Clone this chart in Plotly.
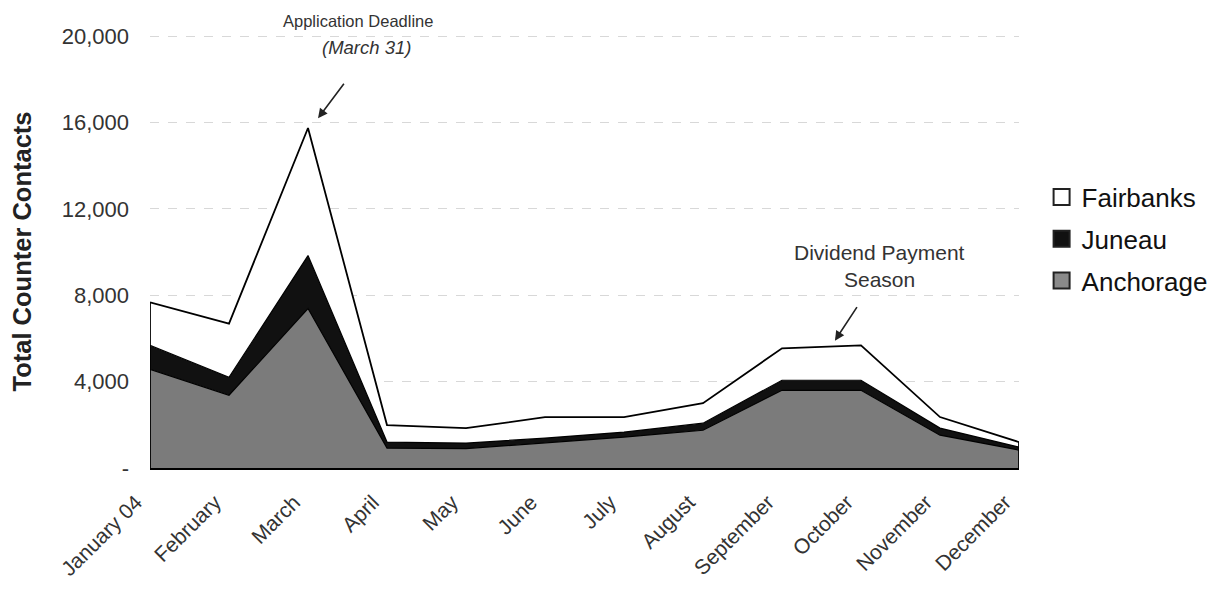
import plotly.graph_objects as go

months = ["January 04", "February", "March", "April", "May", "June", "July",
          "August", "September", "October", "November", "December"]
anchorage = [4570, 3370, 7390, 920, 900, 1150, 1430, 1750, 3600, 3600, 1520, 830]
juneau = [1110, 830, 2450, 280, 255, 235, 235, 325, 465, 465, 330, 140]
fairbanks = [1990, 2490, 5910, 790, 690, 970, 690, 925, 1480, 1620, 510, 230]

y_ticks = [0, 4000, 8000, 12000, 16000, 20000]
y_ticktext = ["-", "4,000", "8,000", "12,000", "16,000", "20,000"]

FONT = "Liberation Sans, Arial, sans-serif"
TXT = "#333333"

totals = [a + j + f for a, j, f in zip(anchorage, juneau, fairbanks)]

fig = go.Figure()
fig.add_trace(go.Scatter(x=months, y=anchorage, name="Anchorage", stackgroup="s",
                         mode="lines", line=dict(color="black", width=1.2),
                         fillcolor="#7b7b7b", showlegend=False))
fig.add_trace(go.Scatter(x=months, y=juneau, name="Juneau", stackgroup="s",
                         mode="lines", line=dict(color="black", width=1.2),
                         fillcolor="#111111", showlegend=False))
fig.add_trace(go.Scatter(x=months, y=fairbanks, name="Fairbanks", stackgroup="s",
                         mode="lines", line=dict(color="black", width=1.8),
                         fillcolor="white", showlegend=False))
# vertical edges of the area at first and last category
for idx in (0, len(months) - 1):
    fig.add_trace(go.Scatter(x=[months[idx], months[idx]], y=[0, totals[idx]],
                             mode="lines", line=dict(color="black", width=1.8),
                             showlegend=False, hoverinfo="skip"))

# legend entries (square swatches)
for name, col in [("Fairbanks", "white"), ("Juneau", "#111111"), ("Anchorage", "#8a8a8a")]:
    fig.add_trace(go.Scatter(x=[None], y=[None], name=name, mode="markers",
                             marker=dict(symbol="square", size=16, color=col,
                                         line=dict(color="#222222", width=2)),
                             legendgroup=name))

fig.update_layout(
    width=1226, height=590,
    margin=dict(l=142, r=215, t=27, b=130),
    paper_bgcolor="white", plot_bgcolor="white",
    font=dict(family=FONT, color=TXT, size=17),
    showlegend=True,
    legend=dict(x=1.026, y=0.68, xanchor="left", yanchor="top",
                traceorder="grouped", tracegroupgap=5, itemwidth=30,
                font=dict(size=26, color="#111111", family=FONT),
                bgcolor="rgba(0,0,0,0)"),
    xaxis=dict(type="category", range=[0, len(months) - 1], tickangle=-45,
               automargin=False, ticklabelstandoff=12, ticklabelshift=-14,
               showgrid=False, showline=True, linecolor="black", linewidth=1.5,
               ticks="", tickfont=dict(size=21, color=TXT, family=FONT)),
    yaxis=dict(range=[0, 20060], tickvals=y_ticks, ticktext=y_ticktext,
               automargin=False,
               showgrid=True, gridcolor="#d8d8d8", griddash="dash", gridwidth=1.2,
               zeroline=False, showline=False, ticks="", ticklen=0,
               ticklabelstandoff=20,
               tickfont=dict(size=22, color=TXT, family=FONT),
               title=dict(text="<b>Total Counter Contacts</b>", standoff=22,
                          font=dict(size=25.5, color="#222222", family=FONT))),
)

# Annotations
fig.add_annotation(x=2.127, y=16200, xref="x", yref="y", text="", showarrow=True,
                   arrowhead=2, arrowsize=1.2, arrowwidth=1.6, arrowcolor="#222",
                   ax=27, ay=-36)
fig.add_annotation(x=0.2394, y=1.032, xref="paper", yref="paper",
                   text="Application Deadline", showarrow=False,
                   xanchor="center", yanchor="middle",
                   font=dict(size=16.5, color=TXT, family=FONT))
fig.add_annotation(x=0.2486, y=0.970, xref="paper", yref="paper",
                   text="<i>(March 31)</i>", showarrow=False,
                   xanchor="center", yanchor="middle",
                   font=dict(size=18.5, color=TXT, family=FONT))
fig.add_annotation(x=8.67, y=5900, xref="x", yref="y", text="", showarrow=True,
                   arrowhead=2, arrowsize=1.2, arrowwidth=1.6, arrowcolor="#222",
                   ax=23, ay=-35)
fig.add_annotation(x=0.839, y=0.498, xref="paper", yref="paper",
                   text="Dividend Payment", showarrow=False,
                   xanchor="center", yanchor="middle",
                   font=dict(size=21, color=TXT, family=FONT))
fig.add_annotation(x=0.839, y=0.4355, xref="paper", yref="paper",
                   text="Season", showarrow=False,
                   xanchor="center", yanchor="middle",
                   font=dict(size=21, color=TXT, family=FONT))

fig.write_html("out.html")
